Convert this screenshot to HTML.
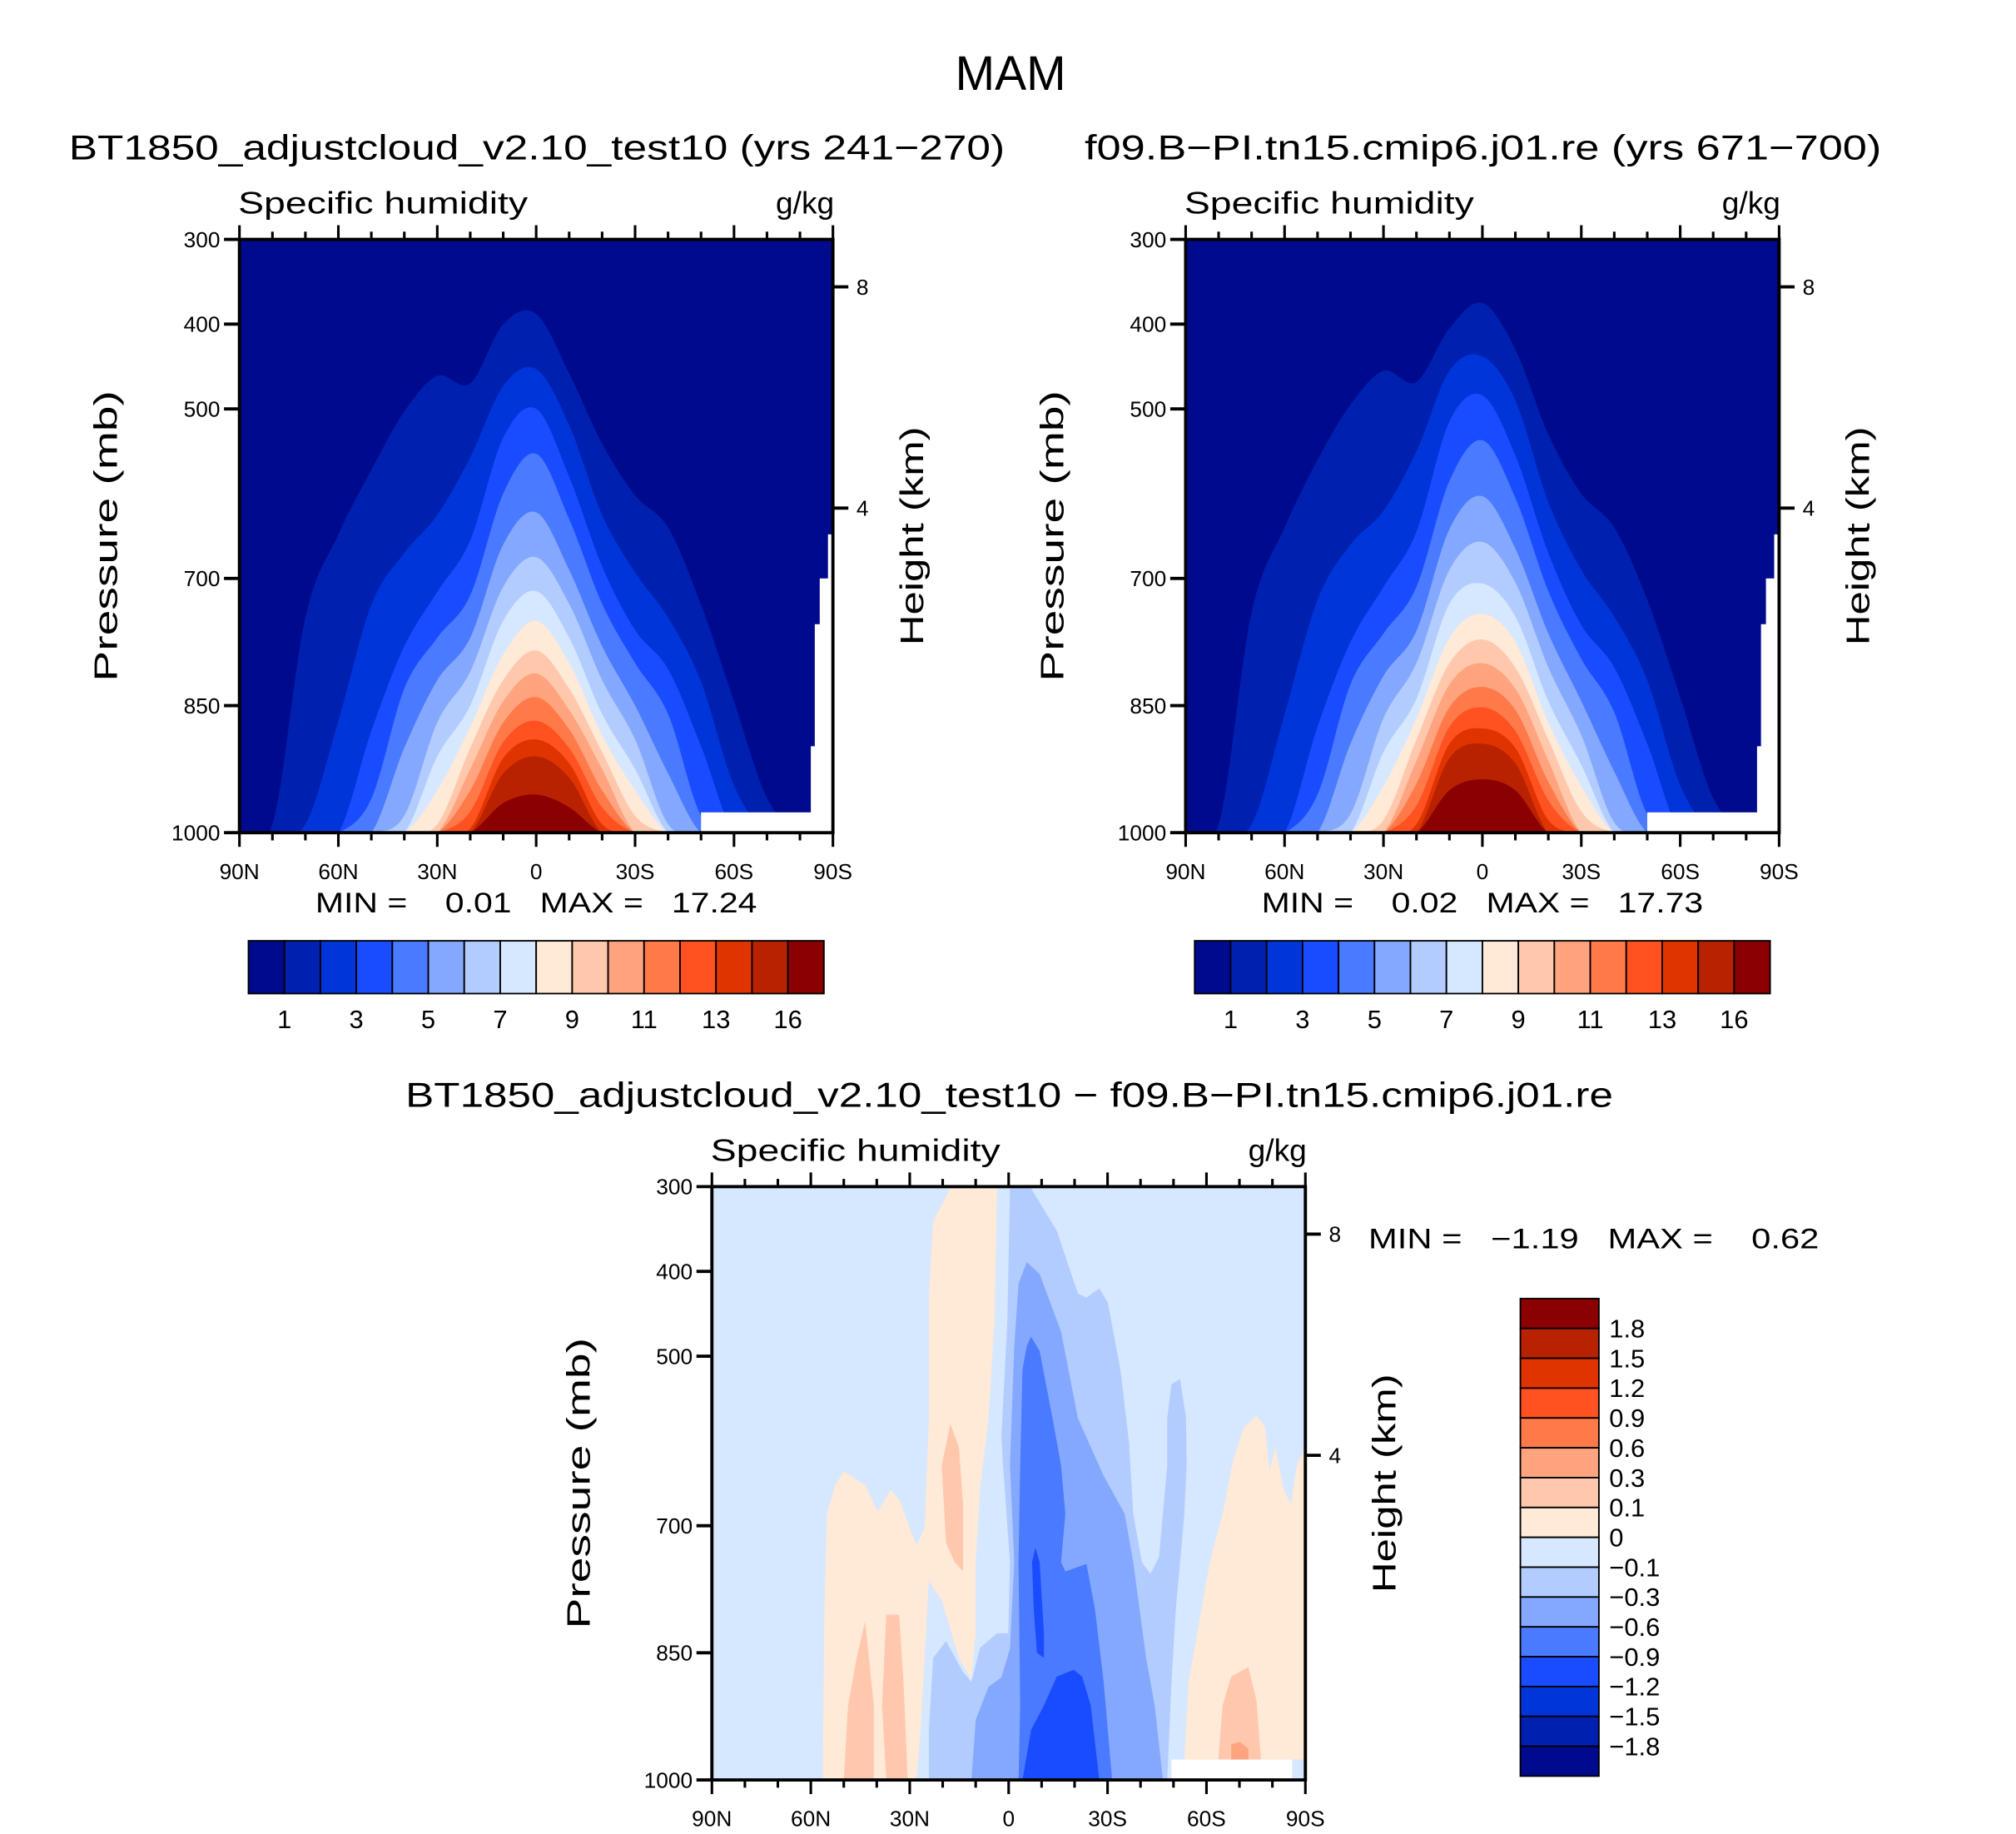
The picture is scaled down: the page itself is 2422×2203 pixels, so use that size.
<!DOCTYPE html>
<html><head><meta charset="utf-8"><title>MAM Specific humidity</title>
<style>html,body{margin:0;padding:0;background:#fff}svg{display:block}text{font-family:"Liberation Sans",sans-serif;fill:#000;white-space:pre}</style>
</head><body>
<svg id="fig" width="2422" height="2203" viewBox="0 0 1566 1425" preserveAspectRatio="none" xmlns="http://www.w3.org/2000/svg">
<text x="785" y="70" font-size="38" text-anchor="middle" textLength="86" lengthAdjust="spacingAndGlyphs">MAM</text>
</svg>
<script>
// ---------- data ----------
const lats = [90,80,70,60,50,40,30,20,10,0,-10,-20,-30,-40,-50,-60,-70,-80,-90];
const seqColors = ["#000a8c","#0020b0","#0035d9","#1a4cff","#4a7aff","#85a8ff","#b3ccff","#d6e8ff","#ffe9d7","#ffc8ac","#ffa47f","#ff7a48","#ff5220","#e03400","#b82200","#8b0000"];
const seqTickLabels = ["1","3","5","7","9","11","13","16"];
const diffTickLabels = ["1.8","1.5","1.2","0.9","0.6","0.3","0.1","0","\u22120.1","\u22120.3","\u22120.6","\u22120.9","\u22121.2","\u22121.5","\u22121.8"];
const pTicks = [300,400,500,700,850,1000];
const latTicks = [90,60,30,0,-30,-60,-90];
const latTickLabels = ["90N","60N","30N","0","30S","60S","90S"];
const kmTicks = [356,617]; // pressure position of 8 km and 4 km
const kmLabels = ["8","4"];
const F = 1000;
// top pressure (mb) of region exceeding each contour level, per latitude
const panel1Tops = [
 [F,990,746,648,572,503,461,470,400,388,458,541,602,640,731,845,959,F,F],
 [F,F,990,868,731,670,625,557,473,453,519,625,693,746,822,944,F,F,F],
 [F,F,F,F,880,780,716,655,534,500,580,686,761,807,898,F,F,F,F],
 [F,F,F,F,960,830,770,720,600,553,630,730,800,860,980,F,F,F,F],
 [F,F,F,F,F,900,820,770,660,622,690,780,850,930,F,F,F,F,F],
 [F,F,F,F,F,980,870,810,710,675,730,820,890,990,F,F,F,F,F],
 [F,F,F,F,F,F,910,850,750,715,770,860,925,F,F,F,F,F,F],
 [F,F,F,F,F,F,950,875,790,750,800,885,950,F,F,F,F,F,F],
 [F,F,F,F,F,F,990,900,820,785,830,905,980,F,F,F,F,F,F],
 [F,F,F,F,F,F,F,925,845,812,855,925,F,F,F,F,F,F,F],
 [F,F,F,F,F,F,F,950,870,840,878,950,F,F,F,F,F,F,F],
 [F,F,F,F,F,F,F,975,893,868,900,970,F,F,F,F,F,F,F],
 [F,F,F,F,F,F,F,995,912,890,918,990,F,F,F,F,F,F,F],
 [F,F,F,F,F,F,F,F,930,910,935,F,F,F,F,F,F,F,F],
 [F,F,F,F,F,F,F,F,965,955,970,F,F,F,F,F,F,F,F]
];
const panel2Tops = [
 [F,990,740,640,560,495,455,468,405,375,430,530,600,640,725,840,959,F,F],
 [F,F,990,860,725,660,620,550,455,438,490,610,690,745,820,944,F,F,F],
 [F,F,F,F,875,775,710,645,515,484,555,670,755,805,895,F,F,F,F],
 [F,F,F,F,955,825,765,710,585,537,605,715,795,858,978,F,F,F,F],
 [F,F,F,F,F,895,815,762,642,603,665,765,845,928,F,F,F,F,F],
 [F,F,F,F,F,978,865,800,690,657,705,805,885,988,F,F,F,F,F],
 [F,F,F,F,F,F,905,842,730,706,745,845,920,F,F,F,F,F,F],
 [F,F,F,F,F,F,945,865,770,742,775,870,945,F,F,F,F,F,F],
 [F,F,F,F,F,F,985,890,800,772,805,890,975,F,F,F,F,F,F],
 [F,F,F,F,F,F,F,915,825,800,830,915,F,F,F,F,F,F,F],
 [F,F,F,F,F,F,F,942,852,828,855,940,F,F,F,F,F,F,F],
 [F,F,F,F,F,F,F,968,875,852,880,962,F,F,F,F,F,F,F],
 [F,F,F,F,F,F,F,990,895,877,900,985,F,F,F,F,F,F,F],
 [F,F,F,F,F,F,F,F,912,895,918,F,F,F,F,F,F,F,F],
 [F,F,F,F,F,F,F,F,950,937,950,F,F,F,F,F,F,F,F]
];
// below-ground (missing) areas: [lat from, lat to, top pressure]
const missingSteps = [[-50,-83.3,976],[-83.3,-84.5,898],[-84.5,-86,754],[-86,-88.5,700],[-88.5,-90,648]];
// difference panel regions: [lat, pressure] outlines
const diffPeachNorth = [[17.7,302],[3.5,302],[4.3,460],[6.1,573],[8.7,658],[10,743],[10,827],[11.3,881],[15.1,856],[20.3,788],[24.2,765],[25.5,856],[26.7,941],[28,1000],[56.4,1000],[55.9,799],[55.1,686],[52.6,652],[50,636],[43.5,652],[39.7,683],[35.8,658],[33.2,669],[28,723],[25.5,703],[24.2,573],[24.2,431],[22.9,341]];
const diffPeachSouth = [[-53.3,976],[-54.6,884],[-57.2,827],[-61,743],[-64.9,686],[-68,624],[-71.4,584],[-75.2,570],[-77.8,584],[-79.1,635],[-80.9,607],[-83.5,658],[-85.6,675],[-87.4,629],[-90,607],[-90,976]];
const diffPos1a = [[17.7,580],[15.1,607],[13.8,675],[13.8,754],[16.4,743],[19,720],[20.3,629]];
const diffPos1b = [[43.5,813],[40.9,912],[40.9,1000],[50,1000],[48.7,912],[46.1,856]];
const diffPos1c = [[37.1,805],[33.2,805],[31.9,884],[30.6,1000],[37.1,1000],[38.4,912]];
const diffPos1d = [[-63.6,976],[-64.9,912],[-67.5,878],[-72.7,867],[-75.2,907],[-76.5,976]];
const diffPos3 = [[-67.5,958],[-70.1,955],[-72.7,963],[-72.7,976],[-67.5,976]];
const diffNeg1 = [[-0.4,302],[-6.8,302],[-14.6,352],[-21,426],[-23.6,431],[-27.5,420],[-30.1,437],[-33.9,516],[-36.5,601],[-37.8,686],[-40.4,743],[-43,757],[-45.6,737],[-48.1,629],[-48.1,573],[-49.4,533],[-52,527],[-53.8,573],[-54,629],[-53.3,686],[-52,743],[-50.7,799],[-49.4,884],[-48.1,1000],[24.2,1000],[24.2,941],[22.9,856],[19,836],[13.8,873],[11.3,884],[8.7,844],[3.5,827],[0.1,827],[-0.4,743],[1.7,629],[2.2,595],[0.4,460]];
const diffNeg2 = [[-5.5,389],[-9.4,403],[-15.9,471],[-21,573],[-24.9,607],[-28.8,641],[-35.2,686],[-37.8,743],[-41.7,856],[-44.3,912],[-46.8,1000],[11.3,1000],[10,929],[6.1,890],[2.2,879],[-0.4,845],[-1.7,743],[-0.4,629],[-1.7,488],[-3,414]];
const diffNeg3 = [[-6.8,477],[-9.4,494],[-13.3,573],[-15.9,629],[-17.2,686],[-15.9,743],[-17.2,754],[-23.6,745],[-26.2,799],[-28.8,884],[-31.4,1000],[-3,1000],[-3.5,912],[-3,743],[-3.5,629],[-4.2,516],[-5.5,488]];
const diffNeg4a = [[-8.1,726],[-9.4,743],[-10.7,827],[-10.7,856],[-8.6,850],[-7.6,799],[-7.1,743]];
const diffNeg4b = [[-4.2,1000],[-6.8,941],[-10.7,912],[-14.6,878],[-19.7,870],[-22.3,878],[-24.9,912],[-27.5,1000]];

// ---------- drawing ----------
const NS = "http://www.w3.org/2000/svg";
const svg = document.getElementById("fig");
function mk(tag, attrs, parent){const e=document.createElementNS(NS,tag);for(const k in attrs)e.setAttribute(k,attrs[k]);(parent||svg).appendChild(e);return e;}
function txt(s, attrs, parent){const e=mk("text",attrs,parent);e.textContent=s;return e;}

function makeAxes(x0,y0,W,H){
  return {x:lat=>x0+(90-lat)/180*W, y:p=>y0+(p-300)/700*H, x0,y0,W,H};
}
function smoothPath(pts){
  let d="M"+pts[0][0]+","+pts[0][1];
  for(let i=0;i<pts.length-1;i++){
    const p0=pts[Math.max(0,i-1)],p1=pts[i],p2=pts[i+1],p3=pts[Math.min(pts.length-1,i+2)];
    const c1=[p1[0]+(p2[0]-p0[0])/6,p1[1]+(p2[1]-p0[1])/6];
    const c2=[p2[0]-(p3[0]-p1[0])/6,p2[1]-(p3[1]-p1[1])/6];
    d+="C"+c1[0]+","+c1[1]+" "+c2[0]+","+c2[1]+" "+p2[0]+","+p2[1];
  }
  return d;
}
function polyPath(ax, arr){return "M"+arr.map(q=>ax.x(q[0])+","+ax.y(q[1])).join("L")+"Z";}

function drawFrame(g, ax){
  const {x0,y0,W,H}=ax;
  for(let lat=90;lat>=-90;lat-=10){
    const major = lat%30===0;
    const L = major?11:6;
    const xx=ax.x(lat);
    const t1=mk("line",{x1:xx,y1:y0,x2:xx,y2:y0-L,stroke:"#000","stroke-width":2},g);
    
    
    const t2=mk("line",{x1:xx,y1:y0+H,x2:xx,y2:y0+H+L,stroke:"#000","stroke-width":2},g);
    
    
  }
  latTicks.forEach((lat,i)=>{
    const t=txt(latTickLabels[i],{x:ax.x(lat),y:y0+H+36,"font-size":17,"text-anchor":"middle"},g);
    
    
  });
  pTicks.forEach(p=>{
    const yy=ax.y(p);
    const l=mk("line",{x1:x0-12,y1:yy,x2:x0,y2:yy,stroke:"#000","stroke-width":2.5},g);
    
    
    const t=txt(String(p),{x:x0-15,y:yy+6,"font-size":17,"text-anchor":"end"},g);
    
    
  });
  kmTicks.forEach((p,i)=>{
    const yy=ax.y(p);
    const l=mk("line",{x1:x0+W,y1:yy,x2:x0+W+12,y2:yy,stroke:"#000","stroke-width":2.5},g);
    
    
    const t=txt(kmLabels[i],{x:x0+W+23,y:yy+6,"font-size":17,"text-anchor":"middle"},g);
    
    
  });
  const r=mk("rect",{x:x0,y:y0,width:W,height:H,fill:"none",stroke:"#000","stroke-width":2.5},g);
  
  
  const s=txt("Specific humidity",{x:x0-1,y:y0-20,"font-size":24,textLength:225,lengthAdjust:"spacingAndGlyphs"},g);
  
  
  const u=txt("g/kg",{x:x0+W+1,y:y0-20,"font-size":24,"text-anchor":"end"},g);
  
  
  const py=y0+H/2, pl=txt("Pressure (mb)",{x:0,y:0,"font-size":25,"text-anchor":"middle",textLength:226,lengthAdjust:"spacingAndGlyphs",transform:"translate("+(x0-95)+","+py+") rotate(-90)"},g);
  
  
  const hl=txt("Height (km)",{x:0,y:0,"font-size":25,"text-anchor":"middle",textLength:170,lengthAdjust:"spacingAndGlyphs",transform:"translate("+(x0+W+70)+","+py+") rotate(-90)"},g);
  
  
}

function drawSeqPanel(x0, tops, title, titleX, titleLen, minS, maxS, cbX, pid){
  const g=mk("g",{});
  
  
  const ax=makeAxes(x0,186,461,461);
  const clip=mk("clipPath",{id:"clip-"+pid},g);
  mk("rect",{x:x0,y:186,width:461,height:461},clip);
  const cg=mk("g",{"clip-path":"url(#clip-"+pid+")"},g);
  const bg=mk("rect",{x:x0,y:186,width:461,height:461,fill:seqColors[0]},cg);
  
  
  tops.forEach((arr,k)=>{
    const pts=lats.map((lat,i)=>[ax.x(lat),ax.y(arr[i])]);
    const d=smoothPath(pts)+"L"+ax.x(-90)+","+ax.y(1000)+"L"+ax.x(90)+","+ax.y(1000)+"Z";
    const p=mk("path",{d:d,fill:seqColors[k+1]},cg);
    
    
  });
  missingSteps.forEach(m=>{
    const r=mk("rect",{x:ax.x(m[0]),y:ax.y(m[2]),width:ax.x(m[1])-ax.x(m[0])+0.6,height:ax.y(1000)-ax.y(m[2]),fill:"#fff"},cg);
    
    
  });
  drawFrame(g,ax);
  const t=txt(title,{x:titleX,y:124,"font-size":27,"text-anchor":"middle",textLength:titleLen,lengthAdjust:"spacingAndGlyphs"},g);
  
  
  const mm=txt("MIN =    "+minS+"   MAX =   "+maxS,{x:x0+59,y:709,"font-size":22,textLength:343,lengthAdjust:"spacingAndGlyphs"},g);
  
  
  const cb=mk("g",{},g);
  
  
  const bw=447/16;
  seqColors.forEach((c,i)=>{
    const r=mk("rect",{x:cbX+i*bw,y:731,width:bw,height:41,fill:c,stroke:"#000","stroke-width":1.2},cb);
    
    
  });
  seqTickLabels.forEach((s,i)=>{
    const l=txt(s,{x:cbX+(1+2*i)*bw,y:799,"font-size":20,"text-anchor":"middle"},cb);
    
    
  });
}

drawSeqPanel(186,panel1Tops,"BT1850_adjustcloud_v2.10_test10 (yrs 241\u2212270)",417,727,"0.01","17.24",193,"panel-test10");
drawSeqPanel(921,panel2Tops,"f09.B\u2212PI.tn15.cmip6.j01.re (yrs 671\u2212700)",1152,619,"0.02","17.73",928,"panel-control");

// difference panel
(function(){
  const g=mk("g",{});
  
  
  const ax=makeAxes(553,922,461,461);
  const clip=mk("clipPath",{id:"clip-diff"},g);
  mk("rect",{x:553,y:922,width:461,height:461},clip);
  const cg=mk("g",{"clip-path":"url(#clip-diff)"},g);
  const bg=mk("rect",{x:553,y:922,width:461,height:461,fill:"#d6e8ff"},cg);
  
  
  const regions=[[diffPeachNorth,"#ffe9d7","diff-positive-0"],[diffPeachSouth,"#ffe9d7","diff-positive-0"],[diffPos1a,"#ffc8ac","diff-positive-01"],[diffPos1b,"#ffc8ac","diff-positive-01"],[diffPos1c,"#ffc8ac","diff-positive-01"],[diffPos1d,"#ffc8ac","diff-positive-01"],[diffPos3,"#ffa47f","diff-positive-03"],[diffNeg1,"#b3ccff","diff-negative-01"],[diffNeg2,"#85a8ff","diff-negative-03"],[diffNeg3,"#4a7aff","diff-negative-06"],[diffNeg4a,"#1a4cff","diff-negative-09"],[diffNeg4b,"#1a4cff","diff-negative-09"]];
  regions.forEach(r=>{
    const p=mk("path",{d:polyPath(ax,r[0]),fill:r[1],"stroke-linejoin":"round"},cg);
    
    
  });
  const w=mk("rect",{x:ax.x(-49.4),y:ax.y(976),width:ax.x(-86)-ax.x(-49.4),height:ax.y(1000)-ax.y(976),fill:"#fff"},cg);
  
  
  drawFrame(g,ax);
  const t=txt("BT1850_adjustcloud_v2.10_test10 \u2212 f09.B\u2212PI.tn15.cmip6.j01.re",{x:784,y:860,"font-size":27,"text-anchor":"middle",textLength:938,lengthAdjust:"spacingAndGlyphs"},g);
  
  
  const mm=txt("MIN =   \u22121.19   MAX =    0.62",{x:1063,y:970,"font-size":22,textLength:350,lengthAdjust:"spacingAndGlyphs"},g);
  
  
  const cb=mk("g",{},g);
  
  
  const bh=(1380-1009)/16;
  const rev=seqColors.slice().reverse();
  rev.forEach((c,i)=>{
    const r=mk("rect",{x:1181,y:1009+i*bh,width:61,height:bh,fill:c,stroke:"#000","stroke-width":1.2},cb);
    
    
  });
  diffTickLabels.forEach((s,i)=>{
    const l=txt(s,{x:1250,y:1009+(i+1)*bh+7,"font-size":20},cb);
    
    
  });
})();
</script>
</body></html>
